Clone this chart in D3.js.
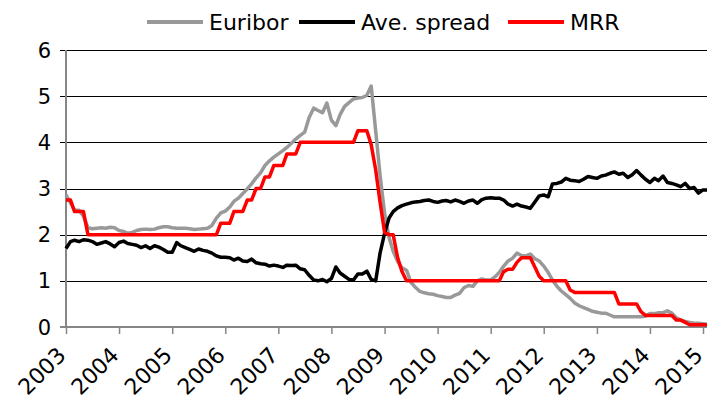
<!DOCTYPE html>
<html>
<head>
<meta charset="utf-8">
<script src="https://cdn.jsdelivr.net/npm/d3@7"></script>
<style>
  html, body { margin: 0; padding: 0; background: #fff; }
  svg { display: block; font-family: "DejaVu Sans", Verdana, sans-serif; }
</style>
</head>
<body>
<div id="chart"></div>
<script>
// monthly values, Jan 2003 .. Feb 2015
const startYear = 2003;

const euribor = [
  2.86, 2.69, 2.53, 2.53, 2.40, 2.15, 2.13, 2.14, 2.15, 2.14, 2.16, 2.15,
  2.09, 2.07, 2.03, 2.05, 2.09, 2.11, 2.12, 2.11, 2.12, 2.15, 2.17, 2.17,
  2.15, 2.14, 2.14, 2.14, 2.13, 2.11, 2.12, 2.13, 2.14, 2.20, 2.36, 2.47,
  2.51, 2.60, 2.72, 2.79, 2.89, 2.99, 3.10, 3.23, 3.34, 3.50, 3.60, 3.68,
  3.75, 3.82, 3.89, 3.98, 4.07, 4.15, 4.22, 4.54, 4.74, 4.69, 4.64, 4.85,
  4.48, 4.36, 4.60, 4.78, 4.86, 4.94, 4.96, 4.97, 5.02, 5.22, 4.24, 3.29,
  2.46, 1.94, 1.64, 1.42, 1.28, 1.23, 0.97, 0.86, 0.77, 0.74, 0.72, 0.71,
  0.68, 0.66, 0.64, 0.64, 0.69, 0.73, 0.85, 0.90, 0.88, 1.00, 1.04, 1.02,
  1.02, 1.09, 1.18, 1.32, 1.43, 1.49, 1.60, 1.55, 1.54, 1.58, 1.48, 1.43,
  1.32, 1.18, 1.02, 0.88, 0.78, 0.70, 0.62, 0.52, 0.46, 0.42, 0.38, 0.34,
  0.32, 0.30, 0.30, 0.26, 0.22, 0.22, 0.22, 0.22, 0.22, 0.22, 0.22, 0.24,
  0.29, 0.29, 0.31, 0.31, 0.35, 0.30, 0.20, 0.15, 0.12, 0.10, 0.08, 0.08,
  0.07, 0.06
];

const spread = [
  1.70, 1.85, 1.88, 1.85, 1.89, 1.88, 1.85, 1.79, 1.82, 1.85, 1.80, 1.74,
  1.83, 1.86, 1.81, 1.79, 1.77, 1.72, 1.76, 1.70, 1.76, 1.73, 1.68, 1.62,
  1.62, 1.83, 1.76, 1.72, 1.68, 1.64, 1.69, 1.66, 1.64, 1.60, 1.54, 1.51,
  1.51, 1.50, 1.45, 1.49, 1.43, 1.42, 1.47, 1.39, 1.37, 1.36, 1.32, 1.34,
  1.32, 1.29, 1.34, 1.33, 1.34, 1.26, 1.24, 1.12, 1.02, 1.00, 1.03, 0.98,
  1.05, 1.30, 1.17, 1.10, 1.03, 1.02, 1.15, 1.15, 1.21, 1.03, 1.00, 1.60,
  2.03, 2.36, 2.50, 2.58, 2.63, 2.66, 2.69, 2.71, 2.72, 2.74, 2.75, 2.72,
  2.70, 2.73, 2.74, 2.71, 2.75, 2.72, 2.68, 2.73, 2.75, 2.68, 2.76, 2.79,
  2.80, 2.79, 2.79, 2.75, 2.66, 2.62, 2.66, 2.62, 2.60, 2.57, 2.71, 2.84,
  2.86, 2.82, 3.10, 3.11, 3.14, 3.22, 3.18, 3.17, 3.15, 3.20, 3.26, 3.24,
  3.22, 3.27, 3.29, 3.33, 3.36, 3.31, 3.33, 3.24, 3.30, 3.39, 3.29, 3.20,
  3.13, 3.22, 3.17, 3.27, 3.13, 3.11, 3.08, 3.04, 3.11, 3.00, 3.02, 2.90,
  2.97, 2.97
];

const mrr = [
  2.75, 2.75, 2.50, 2.50, 2.50, 2.00, 2.00, 2.00, 2.00, 2.00, 2.00, 2.00,
  2.00, 2.00, 2.00, 2.00, 2.00, 2.00, 2.00, 2.00, 2.00, 2.00, 2.00, 2.00,
  2.00, 2.00, 2.00, 2.00, 2.00, 2.00, 2.00, 2.00, 2.00, 2.00, 2.00, 2.25,
  2.25, 2.25, 2.50, 2.50, 2.50, 2.75, 2.75, 3.00, 3.00, 3.25, 3.25, 3.50,
  3.50, 3.50, 3.75, 3.75, 3.75, 4.00, 4.00, 4.00, 4.00, 4.00, 4.00, 4.00,
  4.00, 4.00, 4.00, 4.00, 4.00, 4.00, 4.25, 4.25, 4.25, 3.95, 3.40, 2.70,
  2.05, 2.00, 2.00, 1.50, 1.20, 1.00, 1.00, 1.00, 1.00, 1.00, 1.00, 1.00,
  1.00, 1.00, 1.00, 1.00, 1.00, 1.00, 1.00, 1.00, 1.00, 1.00, 1.00, 1.00,
  1.00, 1.00, 1.00, 1.20, 1.25, 1.25, 1.40, 1.50, 1.50, 1.50, 1.30, 1.10,
  1.00, 1.00, 1.00, 1.00, 1.00, 1.00, 0.80, 0.75, 0.75, 0.75, 0.75, 0.75,
  0.75, 0.75, 0.75, 0.75, 0.75, 0.50, 0.50, 0.50, 0.50, 0.50, 0.33, 0.25,
  0.25, 0.25, 0.25, 0.25, 0.25, 0.25, 0.15, 0.15, 0.10, 0.05, 0.05, 0.05,
  0.05, 0.05
];

const seriesNames = ["Euribor", "Ave. spread", "MRR"];
const seriesColors = ["#999999", "#000000", "#ff0000"];
const yTicks = [0, 1, 2, 3, 4, 5, 6];
const yearTicks = [2003, 2004, 2005, 2006, 2007, 2008, 2009, 2010, 2011, 2012, 2013, 2014, 2015];

const W = 707, H = 401;
const margin = {left: 66, right: 703, top: 50, bottom: 327};

const svg = d3.select("#chart").append("svg")
    .attr("width", W)
    .attr("height", H)
    .style("overflow", "hidden");

const x = d3.scaleTime()
    .domain([new Date(startYear, 0, 1), new Date(2015, 0, 1)])
    .range([margin.left, margin.right]);

const y = d3.scaleLinear()
    .domain([0, 6])
    .range([margin.bottom, margin.top]);

// horizontal gridlines (extend left as the tick marks)
svg.append("g")
  .selectAll("line")
  .data(yTicks.filter(d => d > 0))
  .enter()
  .append("line")
    .attr("x1", margin.left - 6)
    .attr("x2", W)
    .attr("y1", d => Math.round(y(d)) + 0.5)
    .attr("y2", d => Math.round(y(d)) + 0.5)
    .attr("stroke", "#000")
    .attr("stroke-width", 1);

// y labels
svg.append("g")
  .selectAll("text")
  .data(yTicks)
  .enter()
  .append("text")
    .attr("x", margin.left - 15)
    .attr("y", d => y(d))
    .attr("dy", "0.36em")
    .attr("text-anchor", "end")
    .attr("font-size", 21)
    .attr("fill", "#000")
    .text(d => d);

// x axis
const xAxis = svg.append("g")
    .attr("transform", "translate(0," + margin.bottom + ")")
    .call(d3.axisBottom(x)
      .tickValues(yearTicks.map(yr => new Date(yr, 0, 1)))
      .tickSize(7)
      .tickFormat(d3.timeFormat("%Y")));

xAxis.select(".domain")
    .attr("d", "M" + (margin.left - 6) + ",0H" + W)
    .attr("stroke", "#868686")
    .attr("stroke-width", 2);
xAxis.selectAll(".tick line")
    .attr("stroke", "#868686")
    .attr("stroke-width", 1.5);
xAxis.selectAll(".tick text")
    .attr("font-family", "DejaVu Sans, Verdana, sans-serif")
    .attr("font-size", 22)
    .attr("fill", "#000")
    .attr("text-anchor", "end")
    .attr("transform", "translate(-5,24)rotate(-45)")
    .attr("dy", "0.36em")
    .attr("y", 0)
    .attr("x", 0);

// y axis line
svg.append("line")
    .attr("x1", margin.left)
    .attr("x2", margin.left)
    .attr("y1", margin.top)
    .attr("y2", margin.bottom)
    .attr("stroke", "#868686")
    .attr("stroke-width", 2);

// lines
const line = d3.line()
    .x((d, i) => x(new Date(startYear, i, 1)))
    .y(d => y(d));

[euribor, spread, mrr].forEach((vals, k) => {
  svg.append("path")
      .datum(vals)
      .attr("fill", "none")
      .attr("stroke", seriesColors[k])
      .attr("stroke-width", 3.5)
      .attr("stroke-linejoin", "round")
      .attr("d", line);
});

// legend
const legendX = [147, 299, 508];
const legend = svg.append("g");
seriesNames.forEach((name, k) => {
  legend.append("line")
      .attr("x1", legendX[k])
      .attr("x2", legendX[k] + 56)
      .attr("y1", 22)
      .attr("y2", 22)
      .attr("stroke", seriesColors[k])
      .attr("stroke-width", 4);
  legend.append("text")
      .attr("x", legendX[k] + 62)
      .attr("y", 30)
      .attr("font-size", 22)
      .attr("fill", "#000")
      .text(name);
});
</script>
</body>
</html>
